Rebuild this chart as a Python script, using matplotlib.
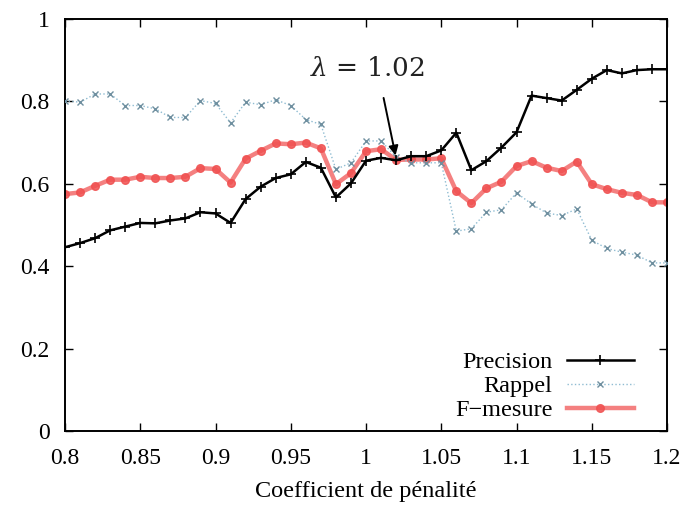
import matplotlib
matplotlib.use('Agg')
import matplotlib.pyplot as plt
import numpy as np

# coefficient de pénalité, 0.80 .. 1.20 step 0.01
coef = np.round(np.arange(0.80, 1.2001, 0.01), 2)

precision = [0.446, 0.456, 0.468, 0.487, 0.496, 0.505, 0.504, 0.511, 0.516, 0.531,
             0.528, 0.505, 0.563, 0.593, 0.614, 0.623, 0.653, 0.639, 0.567, 0.601,
             0.656, 0.663, 0.657, 0.667, 0.667, 0.681, 0.724, 0.633, 0.655, 0.688,
             0.725, 0.814, 0.808, 0.802, 0.828, 0.855, 0.876, 0.868, 0.876, 0.878,
             0.878]
rappel = [0.802, 0.798, 0.818, 0.818, 0.790, 0.790, 0.782, 0.761, 0.761, 0.802,
          0.795, 0.748, 0.798, 0.792, 0.804, 0.790, 0.756, 0.744, 0.635, 0.651,
          0.704, 0.704, 0.665, 0.651, 0.651, 0.651, 0.485, 0.491, 0.531, 0.537,
          0.578, 0.551, 0.529, 0.523, 0.539, 0.463, 0.443, 0.434, 0.427, 0.408,
          0.408]
fmesure = [0.575, 0.579, 0.595, 0.610, 0.610, 0.617, 0.614, 0.614, 0.617, 0.638,
           0.636, 0.603, 0.661, 0.680, 0.698, 0.696, 0.700, 0.686, 0.599, 0.626,
           0.679, 0.684, 0.658, 0.659, 0.659, 0.662, 0.582, 0.553, 0.589, 0.605,
           0.643, 0.655, 0.639, 0.631, 0.654, 0.599, 0.587, 0.578, 0.573, 0.555,
           0.555]

xticks = [0.8, 0.85, 0.9, 0.95, 1.0, 1.05, 1.1, 1.15, 1.2]
xticklabels = ['0.8', '0.85', '0.9', '0.95', '1', '1.05', '1.1', '1.15', '1.2']
yticks = [0, 0.2, 0.4, 0.6, 0.8, 1]
yticklabels = ['0', '0.2', '0.4', '0.6', '0.8', '1']

plt.rcParams['font.family'] = ['Liberation Serif', 'DejaVu Serif']
plt.rcParams['mathtext.fontset'] = 'dejavuserif'

fig = plt.figure(figsize=(6.88, 5.08), dpi=100)
ax = fig.add_axes([0.0945, 0.1516, 0.875, 0.811])

ax.plot(coef, precision, color='black', lw=1.8, marker='+', ms=7, mew=1.2,
        label='Precision', zorder=4)
ax.plot(coef, rappel, color='#8fbcd2', lw=1.0, ls=':', marker='x', ms=5,
        mew=1.0, mec='#6f8f9f', label='Rappel', zorder=3)
ax.plot(coef, fmesure, color='#f36a6a', lw=3.2, alpha=0.85, marker='o', ms=5.5,
        mec='#f05050', mfc='#f05050', label='F\u2212mesure', zorder=2)

ax.set_xlim(0.8, 1.2)
ax.set_ylim(0, 1)
ax.set_xticks(xticks)
ax.set_xticklabels(xticklabels)
ax.set_yticks(yticks)
ax.set_yticklabels(yticklabels)
ax.tick_params(direction='in', length=6, width=1, top=True, right=True,
               labelsize=17)
ax.tick_params(axis='x', pad=12)
ax.tick_params(axis='y', pad=11)
for s in ax.spines.values():
    s.set_linewidth(1.4)
ax.set_xlabel('Coefficient de pénalité', fontsize=17.5, labelpad=9)

leg = ax.legend(loc='lower right', bbox_to_anchor=(0.973, -0.018), frameon=False,
                markerfirst=False, fontsize=17.5, handlelength=2.75,
                labelspacing=0.08, handletextpad=0.6, borderpad=0.2)

# annotation
ax.annotate('', xy=(1.02, 0.662), xytext=(1.0113, 0.815),
            arrowprops=dict(arrowstyle='-|>', color='black', lw=1.4,
                            mutation_scale=14), zorder=6)
ax.text(1.0007, 0.88, r'$\lambda$ = 1.02', fontsize=19, ha='center',
        va='center', color='#222222', zorder=6,
        family=['DejaVu Serif'])

fig.savefig('out.png', dpi=100)
